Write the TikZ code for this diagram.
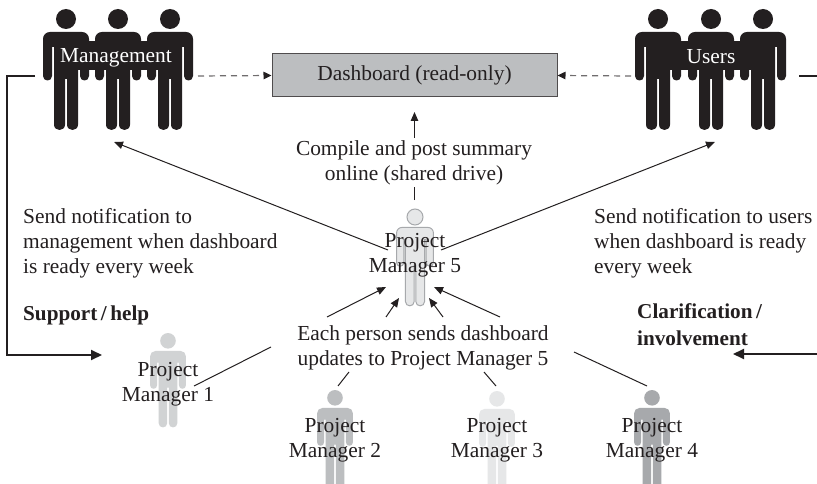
\documentclass[tikz,border=0pt]{standalone}
\usepackage{fontspec}
\setmainfont{Liberation Serif}
\usetikzlibrary{arrows.meta}
\definecolor{ink}{HTML}{231F20}
\definecolor{pmA}{HTML}{D1D3D4}
\definecolor{pmB}{HTML}{BCBEC0}
\definecolor{pmC}{HTML}{E6E7E8}
\definecolor{pmD}{HTML}{A7A9AC}
% #1 cx, #2 top, #3 scale, #4 draw/fill options, #5 leg end
\newcommand{\personfig}[5]{%
  \begin{scope}[shift={(#1,#2)},scale=#3]
    \path[#4] (0,10) circle[radius=10];
    \path[#4] (-23,30) .. controls (-23,26) and (-20,23) .. (-16,23) -- (16,23)
      .. controls (20,23) and (23,26) .. (23,30) -- (23,67)
      .. controls (23,73) and (14,73) .. (14,67) -- (14,38) -- (12,38) -- ++(0,#5-38-5.5)
      .. controls +(0,7.33) and +(0,7.33) .. ++(-11,0) -- (1,70) -- (-1,70) -- ++(0,#5-70-5.5)
      .. controls +(0,7.33) and +(0,7.33) .. ++(-11,0) -- (-12,38) -- (-14,38) -- (-14,67)
      .. controls (-14,73) and (-23,73) .. (-23,67) -- cycle;
  \end{scope}}
\tikzset{
  txt/.style={font=\fontsize{21.4}{25}\selectfont,text=ink,inner sep=0pt,align=center},
  ltxt/.style={txt,align=left,anchor=west},
  btxt/.style={ltxt,font=\fontsize{21.2}{27}\selectfont\bfseries},
  thin arrow/.style={draw=ink,line width=1pt,-{Triangle[length=9pt,width=7.5pt]}},
  thin line/.style={draw=ink,line width=1pt},
  dash arrow/.style={draw=ink!65,line width=1.2pt,dash pattern=on 6pt off 5pt,-{Triangle[length=8pt,width=7.5pt,color=ink]}},
  thick arrow/.style={draw=ink,line width=2pt,-{Triangle[length=11pt,width=10pt]}},
  thick line/.style={draw=ink,line width=2pt},
  blk/.style={fill=ink},
}
\begin{document}
\begin{tikzpicture}[x=1pt,y=-1pt]
\clip (0,0) rectangle (817,484);
\fill[white] (0,0) rectangle (817,484);
% groups
\personfig{66}{9}{1}{blk}{121}
\personfig{118}{9}{1}{blk}{121}
\personfig{170}{9}{1}{blk}{121}
\fill[ink] (66,41) rectangle (170,70);
\personfig{658}{9}{1}{blk}{121}
\personfig{711}{9}{1}{blk}{121}
\personfig{763}{9}{1}{blk}{121}
\fill[ink] (658,41) rectangle (763,70);
% project managers
\personfig{168}{333}{0.78}{fill=pmA}{121}
\personfig{335}{390}{0.78}{fill=pmB}{127}
\personfig{497}{391}{0.78}{fill=pmC}{127}
\personfig{652}{390}{0.78}{fill=pmD}{127}
\personfig{415}{209}{0.8}{fill=pmC,draw=pmD,line width=1pt}{121}
% nodes
\node[txt,text=white] (mgmt) at (116,58) {Management};
\node[txt,text=white] (users) at (711,57) {Users};
\node[draw=ink!80,fill=pmB,line width=1pt,minimum width=285pt,minimum height=43pt,txt] (dash) at (414.5,75.5) {Dashboard (read-only)};
\node[txt] (compile) at (414,163) {Compile and post summary\\online (shared drive)};
\node[txt] (pm5) at (415,255.5) {Project\\Manager 5};
\node[ltxt] (notifL) at (23,243) {Send notification to\\management when dashboard\\is ready every week};
\node[ltxt] (notifR) at (594,243) {Send notification to users\\when dashboard is ready\\every week};
\node[btxt] (support) at (23,315) {Support\,/\,help};
\node[btxt] (clar) at (637,325) {Clarification\,/\\involvement};
\node[txt] (each) at (423,348) {Each person sends dashboard\\updates to Project Manager 5};
\node[txt] (pm1) at (168,384) {Project\\Manager 1};
\node[txt] (pm2) at (335,440.5) {Project\\Manager 2};
\node[txt] (pm3) at (497,440.5) {Project\\Manager 3};
\node[txt] (pm4) at (652,440.5) {Project\\Manager 4};
% coordinates
\coordinate (mR) at (198,76); \coordinate (dL) at (dash.west);
\coordinate (uL) at (631,76); \coordinate (dR) at (dash.east);
\coordinate (mL) at (35,76); \coordinate (c1) at (7,76); \coordinate (c2) at (7,355); \coordinate (sup) at (102,355);
\coordinate (uR) at (799,76); \coordinate (uE) at (817,76);
\coordinate (rE) at (817,354); \coordinate (inv) at (733,354);
\coordinate (a1) at (388,250); \coordinate (a1t) at (114,142);
\coordinate (a2) at (441,250); \coordinate (a2t) at (715,142);
\coordinate (u0) at (414.5,200); \coordinate (u1) at (414.5,187);
\coordinate (u2) at (414.5,138); \coordinate (u3) at (414.5,112);
% connectors
\draw[dash arrow] (mR) -- (dL);
\draw[dash arrow] (uL) -- (dR);
\draw[thick arrow] (mL) -- (c1) -- (c2) -- (sup);
\draw[thick line] (uR) -- (uE);
\draw[thick arrow] (rE) -- (inv);
\draw[thin arrow] (a1) -- (a1t);
\draw[thin arrow] (a2) -- (a2t);
\draw[thin line] (u0) -- (u1);
\draw[thin arrow] (u2) -- (u3);
\coordinate (b1) at (327,317); \coordinate (b1t) at (386,287);
\coordinate (b2) at (386,317); \coordinate (b2t) at (399,298);
\coordinate (b3) at (443,317); \coordinate (b3t) at (429,298);
\coordinate (b4) at (500,317); \coordinate (b4t) at (434,287);
\draw[thin arrow] (b1) -- (b1t);
\draw[thin arrow] (b2) -- (b2t);
\draw[thin arrow] (b3) -- (b3t);
\draw[thin arrow] (b4) -- (b4t);
\coordinate (l1) at (194,386); \coordinate (l1e) at (271,347);
\coordinate (l2) at (338,386); \coordinate (l2e) at (349,372);
\coordinate (l3) at (496,386); \coordinate (l3e) at (484,372);
\coordinate (l4) at (647,386); \coordinate (l4e) at (574,352);
\draw[thin line] (l1) -- (l1e);
\draw[thin line] (l2) -- (l2e);
\draw[thin line] (l3) -- (l3e);
\draw[thin line] (l4) -- (l4e);
\end{tikzpicture}
\end{document}
